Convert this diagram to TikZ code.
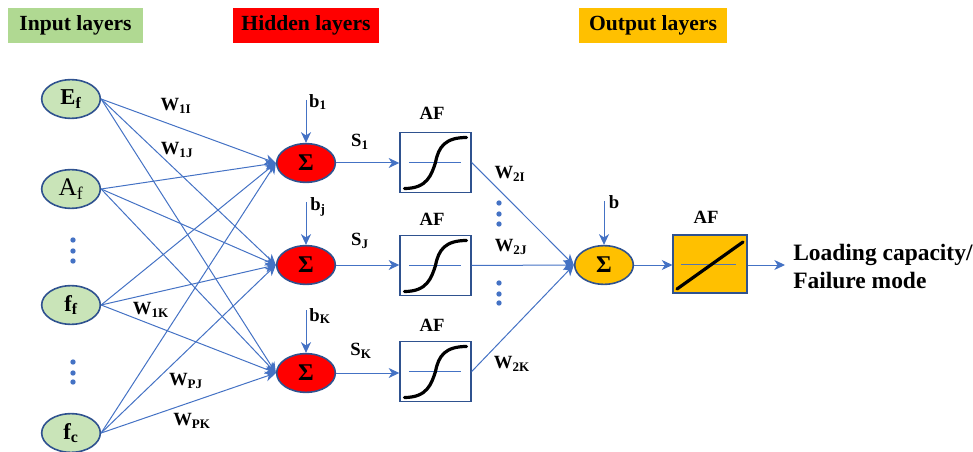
\documentclass[tikz,border=0pt]{standalone}
\usepackage{fontspec}
\setmainfont{Liberation Serif}
\usetikzlibrary{positioning,arrows.meta,shapes.geometric}
\definecolor{linkblue}{HTML}{4472C4}
\definecolor{edgeblue}{HTML}{2F528F}
\definecolor{inputgreen}{HTML}{C9E4B8}
\definecolor{headgreen}{HTML}{B0D992}
\definecolor{outyellow}{HTML}{FFC000}

\begin{document}
\begin{tikzpicture}[
  x=0.75pt, y=-0.75pt,
  link/.style={-{Stealth[length=8pt,width=7.5pt,inset=2.4pt]}, linkblue, line width=0.75pt},
  header/.style={minimum height=26pt, inner sep=0pt, text depth=3pt, font=\fontsize{16.2}{18}\selectfont\bfseries},
  inputnode/.style={ellipse, draw=edgeblue, fill=inputgreen, line width=1.2pt, minimum width=44pt, minimum height=29pt, inner sep=0pt, font=\fontsize{17}{18}\selectfont\bfseries},
  sumnode/.style={ellipse, draw=edgeblue, line width=1.2pt, minimum width=44pt, minimum height=29pt, inner sep=0pt, font=\fontsize{18}{18}\selectfont\bfseries},
  afbox/.style={draw=edgeblue, line width=1.3pt, minimum width=53pt, minimum height=45pt, inner sep=0pt},
  lab/.style={inner sep=0pt, font=\fontsize{14}{16}\selectfont\bfseries},
  dotmark/.style={circle, fill=linkblue, inner sep=0pt, minimum size=4pt}
]
  \useasboundingbox (0,0) rectangle (973,452);

  % Layer headers
  \node[header, fill=headgreen, minimum width=101pt] (headin) at (75.5,25.5) {Input layers};
  \node[header, fill=red, minimum width=110pt] (headhid) at (306,25.5) {Hidden layers};
  \node[header, fill=outyellow, minimum width=111pt] (headout) at (653,25.5) {Output layers};

  % Input neurons
  \node[inputnode] (inE) at (71,99) {E\textsubscript{f}};
  \node[inputnode, font=\fontsize{19}{18}\selectfont] (inA) at (71,189) {A\textsubscript{f}};
  \node[inputnode] (inf) at (71,305) {f\textsubscript{f}};
  \node[inputnode] (inc) at (71,433) {f\textsubscript{c}};

  % Hidden sums and their activation boxes
  \foreach \n/\ys/\yb in {i/163/162.5, j/265/265.5, k/373/371.5} {
    \node[sumnode, fill=red] (sig\n) at (306,\ys) {Σ};
    \node[afbox] (af\n) at (435.5,\yb) {};
    \draw[link] (sig\n.east) -- (sig\n.east -| af\n.west);
    \draw[linkblue, line width=0.6pt] ([xshift=-20pt]af\n.center) -- ([xshift=19pt]af\n.center);
    \draw[black, line width=2.4pt, line cap=round, shift={(af\n.center)}]
      (-31,26) .. controls (-8,26) and (-4,12) .. (0,0) .. controls (3,-16) and (10,-25) .. (31,-25);
  }

  % Output sum and linear box
  \node[sumnode, fill=outyellow] (sigout) at (604,265) {Σ};
  \node[afbox, fill=outyellow, minimum width=55pt, minimum height=44pt] (afout) at (710,264) {};
  \draw[linkblue!70!gray, line width=0.6pt] (681,264) -- (736,264);
  \draw[black, line width=2.4pt, line cap=round] (677,289) -- (743,242);
  \coordinate (result) at (785,265);
  \draw[link] (sigout.east) -- (sigout.east -| afout.west);
  \draw[link] (sigout.east -| afout.east) -- (result);

  % Every input to every hidden sum
  \foreach \a in {inE,inA,inf,inc} {
    \foreach \n in {i,j,k} {
      \draw[link] (\a.east) -- (sig\n.west);
    }
  }
  \foreach \n in {i,j,k} {
    \draw[link] (af\n.east) -- (sigout.west);
  }

  % Bias arrows
  \coordinate (bi) at (306,100);
  \coordinate (bj) at (306,202);
  \coordinate (bk) at (306,310);
  \coordinate (bout) at (604,201);
  \draw[link] (bi) -- (sigi.north);
  \draw[link] (bj) -- (sigj.north);
  \draw[link] (bk) -- (sigk.north);
  \draw[link] (bout) -- (sigout.north);

  % Dots
  \foreach \i/\x/\y in {1/73/240, 2/73/251, 3/73/261, 4/73/362, 5/73/373, 6/73/382,
                        7/499/203, 8/499/214, 9/499/224, 10/499/283, 11/499/294, 12/499/303} {
    \node[dotmark] (dot\i) at (\x,\y) {};
  }

  % Labels
  \foreach \name/\x/\y/\txt in {wa/176/106/W\textsubscript{1I}, wb/177/150/W\textsubscript{1J},
      wc/151/310/W\textsubscript{1K}, wd/186/381/W\textsubscript{PJ}, we/192/421/W\textsubscript{PK},
      ba/318/102/b\textsubscript{1}, bb/318/207/b\textsubscript{j}, bc/320/316/b\textsubscript{K},
      sa/360/142/S\textsubscript{1}, sb/360/241/S\textsubscript{J}, sc/361/351/S\textsubscript{K},
      fa/432/113/AF, fb/432/219/AF, fc/432/325/AF, fd/706/217/AF,
      wf/510/174/W\textsubscript{2I}, wg/511/247/W\textsubscript{2J}, wh/512/364/W\textsubscript{2K},
      bd/614/202/b} {
    \node[lab] (\name) at (\x,\y) {\txt};
  }
  \node[inner sep=0pt, anchor=west, align=left, font=\fontsize{17.6}{21}\selectfont\bfseries] (outtext) at (793,267) {Loading capacity/\\Failure mode};
\end{tikzpicture}
\end{document}
